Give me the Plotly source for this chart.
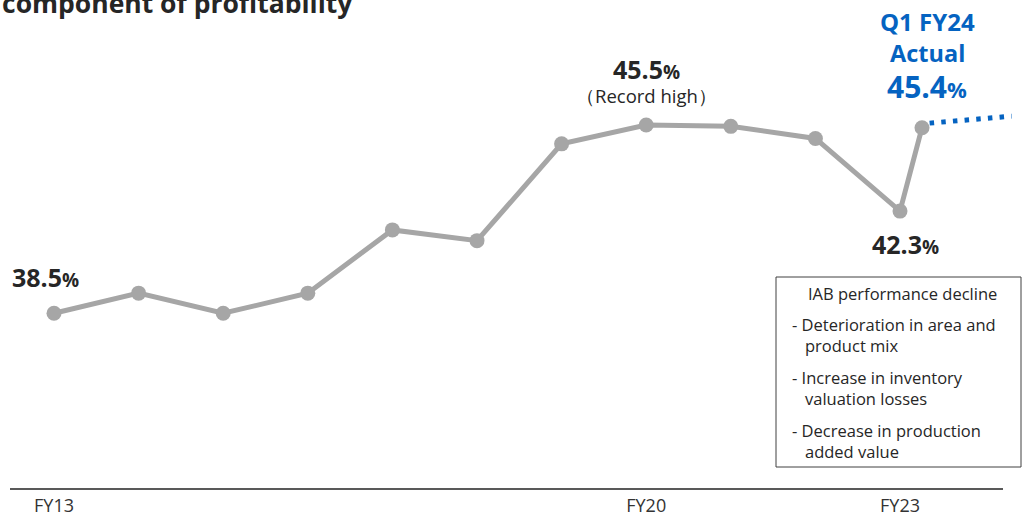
import plotly.graph_objects as go

# ---- data ----
categories = ["FY13", "FY14", "FY15", "FY16", "FY17", "FY18", "FY19", "FY20", "FY21", "FY22", "FY23"]
margin_pct = [38.5, 39.25, 38.5, 39.25, 41.6, 41.2, 44.8, 45.5, 45.45, 45.0, 42.3]
q1_label = "Q1 FY24"
q1_pos = 10.26
q1_value = 45.4
outlook_x = [10.35, 11.32]
outlook_y = [45.57, 45.83]
tick_labels = ["FY13", "FY20", "FY23"]

W, H = 1026, 516
PLOT_H = 489
FONT = "Open Sans"
GRAY = "#A6A6A6"
DARK = "#262626"
BLUE = "#0563C1"

x_idx = list(range(len(categories)))
tick_vals = [categories.index(t) for t in tick_labels]

fig = go.Figure()
fig.add_trace(go.Scatter(
    x=outlook_x, y=outlook_y, mode="lines",
    line=dict(color=BLUE, width=5, dash="4.5px,7.2px"),
    hoverinfo="skip", showlegend=False, cliponaxis=False))
fig.add_trace(go.Scatter(
    x=x_idx + [q1_pos], y=margin_pct + [q1_value], mode="lines+markers",
    line=dict(color=GRAY, width=5),
    marker=dict(color=GRAY, size=15),
    hoverinfo="skip", showlegend=False, cliponaxis=False))


def px(x):
    return x / W


def py(y):
    return 1 - y / PLOT_H


ann = []
# cut-off title
ann.append(dict(x=px(0), y=py(23), xref="paper", yref="paper", xanchor="left", yanchor="bottom",
                text="<b>component of profitability</b>", showarrow=False,
                font=dict(family=FONT, size=26.5, color=DARK)))


def val_label(xv, yv, text, xs, ys, size, pct_size, color):
    return dict(x=xv, y=yv, xref="x", yref="y", xanchor="center", yanchor="middle",
                text=f"<b>{text}<span style='font-size:{pct_size}px'>%</span></b>",
                showarrow=False, xshift=xs, yshift=ys,
                font=dict(family=FONT, size=size, color=color))


ann.append(val_label(0, margin_pct[0], f"{margin_pct[0]:.1f}", -9, 36, 25, 19, DARK))
ann.append(val_label(7, margin_pct[7], f"{margin_pct[7]:.1f}", 0, 56, 25, 19, DARK))
ann.append(val_label(10, margin_pct[10], f"{margin_pct[10]:.1f}", 5, -33, 25, 19, DARK))
ann.append(dict(x=7, y=margin_pct[7], xref="x", yref="y", xanchor="center", yanchor="middle",
                text="（Record high）", showarrow=False, yshift=30,
                font=dict(family=FONT, size=18.5, color=DARK)))
# Q1 FY24 labels
ann.append(dict(x=q1_pos, y=q1_value, xref="x", yref="y", xanchor="center", yanchor="middle",
                text=f"<b>{q1_label}</b>", showarrow=False, xshift=5, yshift=106,
                font=dict(family=FONT, size=24, color=BLUE)))
ann.append(dict(x=q1_pos, y=q1_value, xref="x", yref="y", xanchor="center", yanchor="middle",
                text="<b>Actual</b>", showarrow=False, xshift=5, yshift=75,
                font=dict(family=FONT, size=23.5, color=BLUE)))
ann.append(val_label(q1_pos, q1_value, f"{q1_value:.1f}", 5, 41, 30, 22, BLUE))

# explanation box
box_lines = [
    ("IAB performance decline", 902, 293, "center"),
    ("- Deterioration in area and", 790, 324, "left"),
    ("product mix", 803, 345, "left"),
    ("- Increase in inventory", 790, 377, "left"),
    ("valuation losses", 803, 398, "left"),
    ("- Decrease in production", 790, 430, "left"),
    ("added value", 803, 451, "left"),
]
for t, xx, yy, anc in box_lines:
    ann.append(dict(x=px(xx), y=py(yy), xref="paper", yref="paper", xanchor=anc, yanchor="middle",
                    text=t, showarrow=False, font=dict(family=FONT, size=16.5, color=DARK)))

shapes = [
    dict(type="rect", xref="paper", yref="paper", x0=px(776), x1=px(1021), y0=py(467), y1=py(277),
         line=dict(color="#404040", width=1), fillcolor="rgba(0,0,0,0)"),
    dict(type="line", xref="paper", yref="paper", x0=px(10), x1=px(1003), y0=py(489), y1=py(489),
         line=dict(color="#595959", width=2)),
]

x_scale = 84.6
x_min = -54 / x_scale
x_max = x_min + W / x_scale
y_scale = 26.9
y_max = 45.5 + 125 / y_scale
y_min = 45.5 - (PLOT_H - 125) / y_scale

fig.update_layout(
    width=W, height=H,
    margin=dict(l=0, r=0, t=0, b=H - PLOT_H),
    paper_bgcolor="white", plot_bgcolor="white",
    showlegend=False,
    xaxis=dict(range=[x_min, x_max], tickvals=tick_vals, ticktext=tick_labels,
               showgrid=False, zeroline=False, showline=False, ticks="",
               ticklabelstandoff=4,
               tickfont=dict(family=FONT, size=18, color="#333333")),
    yaxis=dict(range=[y_min, y_max], visible=False, showgrid=False, zeroline=False),
    annotations=ann, shapes=shapes,
)

fig.write_html("out.html")
